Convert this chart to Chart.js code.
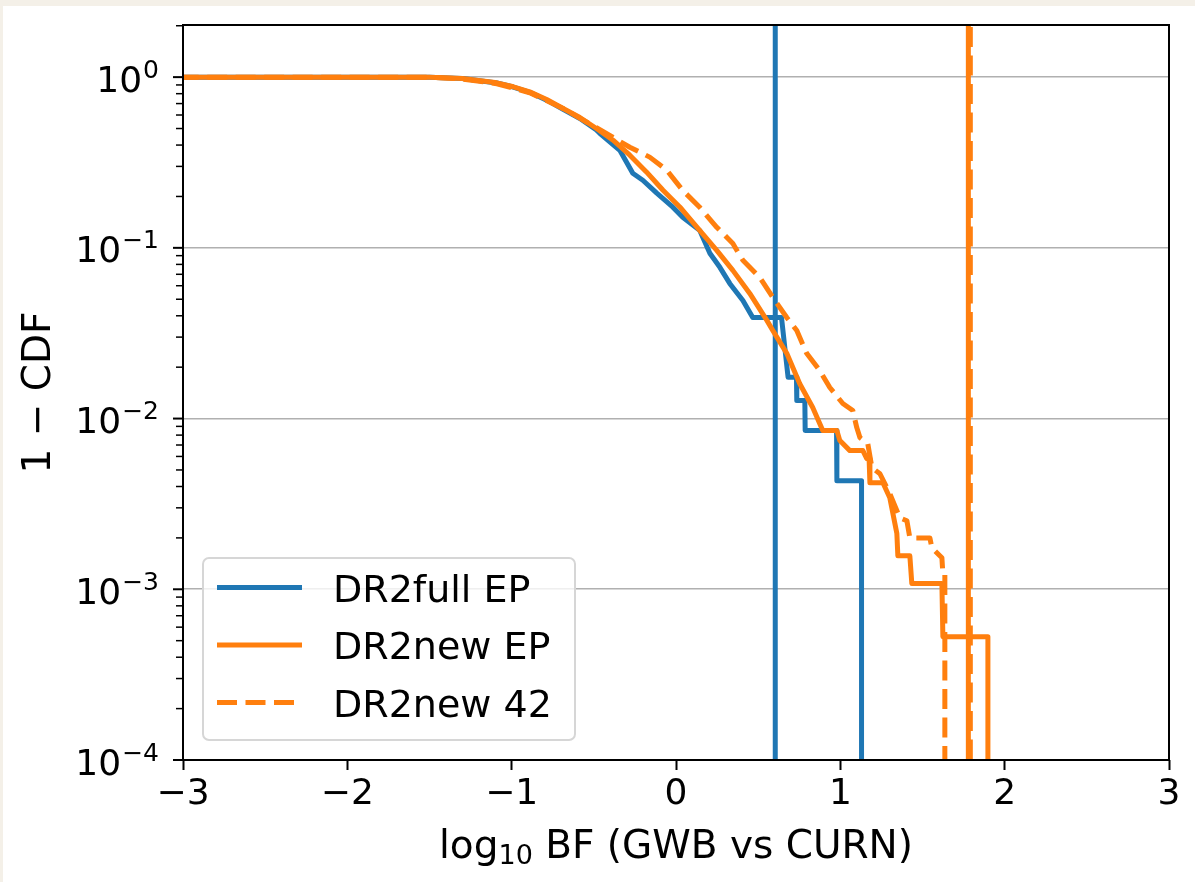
<!DOCTYPE html>
<html>
<head>
<meta charset="utf-8">
<title>1 - CDF of log10 BF</title>
<script src="https://cdn.jsdelivr.net/npm/chart.js@4.4.1/dist/chart.umd.min.js"></script>
<style>
    html, body {
        margin: 0;
        padding: 0;
        background: #f4f0e8;
    }
    .figure {
        position: absolute;
        left: 3px;
        top: 6px;
        width: 1192px;
        height: 876px;
        background: #ffffff;
    }
</style>
</head>
<body>
<div class="figure"><canvas id="cdfChart"></canvas></div>
<script>
    const FONT = "'DejaVu Sans', sans-serif";
    const BLUE = '#1f77b4';
    const ORANGE = '#ff7f0e';
    const FLOOR = 1e-6;   // stands in for 1 - CDF = 0 on the log axis

    // DR2full EP
    const fullX = [-3.2, -1.5, -1.3, -1.09, -0.99, -0.89, -0.787, -0.687, -0.585, -0.484,
        -0.464, -0.342, -0.263, -0.202, -0.117, -0.019, 0.041, 0.144, 0.206, 0.267,
        0.327, 0.407, 0.467, 0.642, 0.682, 0.733, 0.735, 0.784, 0.786, 0.977,
        0.979, 1.129, 1.129];
    const fullY = [1.0, 1.0, 0.982, 0.924, 0.875, 0.815, 0.733, 0.648, 0.572, 0.49,
        0.469, 0.373, 0.2735, 0.249, 0.209, 0.173, 0.151, 0.1266, 0.0929, 0.0769,
        0.0619, 0.0492, 0.0391, 0.0391, 0.01746, 0.01746, 0.01276, 0.01276, 0.00851, 0.00851,
        0.00432, 0.00432, FLOOR];

    // DR2new EP
    const newX = [-3.2, -1.5, -1.3, -1.09, -0.99, -0.89, -0.787, -0.687, -0.585, -0.484,
        -0.383, -0.281, -0.18, -0.079, 0.023, 0.144, 0.248, 0.346, 0.449, 0.553,
        0.589, 0.674, 0.753, 0.832, 0.893, 0.979, 0.997, 1.058, 1.137, 1.161,
        1.175, 1.18, 1.259, 1.301, 1.344, 1.35, 1.423, 1.435, 1.618, 1.624,
        1.898, 1.898];
    const newY = [1.0, 1.0, 0.982, 0.926, 0.878, 0.82, 0.74, 0.655, 0.58, 0.5,
        0.427, 0.349, 0.2785, 0.2174, 0.1735, 0.1266, 0.0967, 0.0738, 0.0541, 0.0376,
        0.0328, 0.0241, 0.016, 0.0116, 0.0085, 0.0085, 0.00743, 0.00649, 0.00649, 0.00582,
        0.00582, 0.00421, 0.00421, 0.00344, 0.00212, 0.00157, 0.00157, 0.00108, 0.00108, 0.000527,
        0.000527, FLOOR];

    // DR2new 42
    const new42X = [-3.2, -1.5, -1.3, -1.09, -0.89, -0.687, -0.484, -0.403, -0.281, -0.16,
        -0.056, 0.041, 0.144, 0.248, 0.346, 0.407, 0.51, 0.589, 0.674, 0.735,
        0.795, 0.875, 0.936, 1.015, 1.076, 1.1, 1.119, 1.167, 1.192, 1.241,
        1.301, 1.362, 1.405, 1.423, 1.545, 1.557, 1.618, 1.624, 1.636, 1.636];
    const new42Y = [1.0, 1.0, 0.975, 0.915, 0.81, 0.655, 0.505, 0.455, 0.3885, 0.34,
        0.285, 0.217, 0.173, 0.132, 0.106, 0.0845, 0.0671, 0.0513, 0.0391, 0.0328,
        0.0241, 0.0191, 0.0152, 0.01225, 0.01114, 0.00885, 0.00774, 0.00713, 0.00516, 0.00475,
        0.00363, 0.00262, 0.00252, 0.002, 0.002, 0.00175, 0.00153, 0.00123, 0.00123, FLOOR];

    // observed values (vertical lines)
    const obsFull = 0.604;
    const obsNew = 1.779;
    const obsNew42 = 1.791;

    const decadeExps = [0, -1, -2, -3, -4];
    const legendLabels = ['DR2full EP', 'DR2new EP', 'DR2new 42'];

    function pts(xs, ys) {
        return xs.map((x, i) => ({ x: x, y: ys[i] }));
    }
    function vline(x) {
        return [{ x: x, y: FLOOR }, { x: x, y: 10 }];
    }

    const lineDefaults = { pointRadius: 0, fill: false, tension: 0, borderWidth: 5, clip: 0,
        borderJoinStyle: 'round', borderCapStyle: 'butt' };
    const DASH = [20, 8.5];

    // minor + major ticks for the log axis
    const logTicks = [];
    for (let e = -4; e <= 0; e++) {
        for (let m = 1; m <= 9; m++) {
            const v = m * Math.pow(10, e);
            if (v <= 2.02) logTicks.push({ value: v, major: m === 1 });
        }
    }

    const decorPlugin = {
        id: 'decor',
        afterDraw(chart) {
            const { ctx, chartArea: a, scales: { y } } = chart;
            ctx.save();
            ctx.strokeStyle = '#000';
            ctx.fillStyle = '#000';

            // y tick marks
            y.ticks.forEach(t => {
                const py = y.getPixelForValue(t.value);
                const len = t.major ? 10 : 7;
                ctx.lineWidth = t.major ? 2 : 1.5;
                ctx.beginPath();
                ctx.moveTo(a.left - len, py);
                ctx.lineTo(a.left, py);
                ctx.stroke();
            });

            // y tick labels 10^k
            ctx.textAlign = 'right';
            ctx.textBaseline = 'alphabetic';
            decadeExps.forEach(e => {
                const py = y.getPixelForValue(Math.pow(10, e));
                const sup = e < 0 ? '\u2212' + (-e) : String(e);
                const right = a.left - 24;
                ctx.font = '25px ' + FONT;
                ctx.fillText(sup, right, py + 0.5);
                const w = ctx.measureText(sup).width;
                ctx.font = '36px ' + FONT;
                ctx.fillText('10', right - w - 1, py + 14.5);
            });

            // spines
            ctx.lineWidth = 2;
            ctx.strokeRect(a.left, a.top, a.right - a.left, a.bottom - a.top);

            // x axis title with subscript
            const parts = [['log', 39, 0], ['10', 27, 5.5], [' BF (GWB vs CURN)', 39, 0]];
            let total = 0;
            parts.forEach(p => { ctx.font = p[1] + 'px ' + FONT; total += ctx.measureText(p[0]).width; });
            let cx = (a.left + a.right) / 2 - total / 2;
            ctx.textAlign = 'left';
            parts.forEach(p => {
                ctx.font = p[1] + 'px ' + FONT;
                ctx.fillText(p[0], cx, a.bottom + 98 + p[2]);
                cx += ctx.measureText(p[0]).width;
            });

            // y axis title
            ctx.save();
            ctx.translate(47, (a.top + a.bottom) / 2);
            ctx.rotate(-Math.PI / 2);
            ctx.textAlign = 'center';
            ctx.font = '39px ' + FONT;
            ctx.fillText('1 \u2212 CDF', 0, 0);
            ctx.restore();

            // legend
            const bx = a.left + 20, bw = 372, bh = 182, by = a.bottom - 20 - bh;
            ctx.beginPath();
            ctx.roundRect(bx, by, bw, bh, 6);
            ctx.fillStyle = 'rgba(255,255,255,0.8)';
            ctx.fill();
            ctx.lineWidth = 2;
            ctx.strokeStyle = '#d6d6d6';
            ctx.stroke();
            const styles = [[BLUE, []], [ORANGE, []], [ORANGE, DASH]];
            legendLabels.forEach((lab, i) => {
                const ly = by + 29.5 + i * 57.5;
                ctx.strokeStyle = styles[i][0];
                ctx.setLineDash(styles[i][1]);
                ctx.lineWidth = 5;
                ctx.beginPath();
                ctx.moveTo(bx + 14, ly);
                ctx.lineTo(bx + 99, ly);
                ctx.stroke();
                ctx.setLineDash([]);
                ctx.fillStyle = '#000';
                ctx.font = '38px ' + FONT;
                ctx.textAlign = 'left';
                ctx.fillText(lab, bx + 130, ly + 14);
            });
            ctx.restore();
        }
    };

    new Chart(document.getElementById('cdfChart'), {
        type: 'line',
        data: {
            datasets: [
                Object.assign({ label: legendLabels[0], data: pts(fullX, fullY), borderColor: BLUE, order: 6 }, lineDefaults),
                Object.assign({ label: 'obs full', data: vline(obsFull), borderColor: BLUE, order: 5 }, lineDefaults),
                Object.assign({ label: legendLabels[1], data: pts(newX, newY), borderColor: ORANGE, order: 4 }, lineDefaults),
                Object.assign({ label: 'obs new', data: vline(obsNew), borderColor: ORANGE, order: 3 }, lineDefaults),
                Object.assign({ label: legendLabels[2], data: pts(new42X, new42Y), borderColor: ORANGE, borderDash: DASH, order: 2 }, lineDefaults),
                Object.assign({ label: 'obs new 42', data: vline(obsNew42), borderColor: ORANGE, borderDash: DASH, order: 1 }, lineDefaults)
            ]
        },
        options: {
            responsive: true,
            maintainAspectRatio: false,
            animation: false,
            layout: { padding: { left: 0, right: 26, top: 19, bottom: 0 } },
            plugins: { legend: { display: false }, tooltip: { enabled: false } },
            scales: {
                x: {
                    type: 'linear',
                    min: -3,
                    max: 3,
                    ticks: {
                        stepSize: 1,
                        color: '#000',
                        padding: 3,
                        font: { family: FONT, size: 36 },
                        callback: v => (v < 0 ? '\u2212' + Math.abs(v) : String(v))
                    },
                    grid: { drawOnChartArea: false, drawTicks: true, tickLength: 10, tickWidth: 2, tickColor: '#000' },
                    border: { display: false },
                    afterFit: s => { s.height = 122; }
                },
                y: {
                    type: 'logarithmic',
                    min: 1e-4,
                    max: 2.02,
                    afterBuildTicks: s => { s.ticks = logTicks.map(t => ({ value: t.value, major: t.major })); },
                    ticks: { display: false },
                    grid: {
                        color: c => (c.tick && c.tick.major ? '#b0b0b0' : 'rgba(0,0,0,0)'),
                        lineWidth: 1.6,
                        drawTicks: false
                    },
                    border: { display: false },
                    afterFit: s => { s.width = 180; }
                }
            }
        },
        plugins: [decorPlugin]
    });
</script>
</body>
</html>
